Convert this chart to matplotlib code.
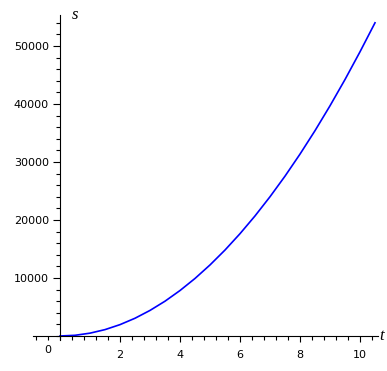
import matplotlib
matplotlib.use("Agg")
from matplotlib import pyplot as plt
from matplotlib.ticker import MultipleLocator

# values
t = [0, 0.5, 1, 1.5, 2, 2.5, 3, 3.5, 4, 4.5, 5, 5.5, 6, 6.5, 7, 7.5, 8, 8.5, 9, 9.5, 10, 10.5]
s = [0, 120, 490, 1100, 1960, 3060, 4410, 6000, 7840, 9920, 12250, 14820, 17640,
     20700, 24010, 27560, 31360, 35400, 39690, 44220, 49000, 54000]
xticks = [2, 4, 6, 8, 10]
yticks = [10000, 20000, 30000, 40000, 50000]

W, H = 387, 371
fig = plt.figure(figsize=(W / 100, H / 100), dpi=100)
# pixel frame: t=-1 at x=30, 30 px per unit; s=0 at y=336, 58 px per 10000
x0, x1 = 30, 378
ytop, ybot = 15, 345
ax = fig.add_axes([x0 / W, 1 - ybot / H, (x1 - x0) / W, (ybot - ytop) / H])
ax.set_xlim(-1, -1 + (x1 - x0) / 30)
ax.set_ylim(-(ybot - 336) / 58 * 10000, (336 - ytop) / 58 * 10000)

ax.plot(t, s, color="#0000ff", lw=1.2)

for side in ("top", "right"):
    ax.spines[side].set_visible(False)
ax.spines["left"].set_position(("data", 0))
ax.spines["bottom"].set_position(("data", 0))
ax.spines["left"].set_bounds(-700, ax.get_ylim()[1])
ax.spines["bottom"].set_bounds(-0.9, ax.get_xlim()[1])
for sp in ("left", "bottom"):
    ax.spines[sp].set_linewidth(0.8)

ax.set_xticks(xticks)
ax.set_yticks(yticks)
ax.xaxis.set_minor_locator(MultipleLocator(0.4))
ax.yaxis.set_minor_locator(MultipleLocator(2000))
ax.tick_params(which="major", length=5, width=0.8, labelsize=8, direction="out", pad=3)
ax.tick_params(which="minor", length=3, width=0.8, direction="out")
ax.tick_params(axis="x", which="major", length=4, pad=6)

ax.text(-0.4, -1500, "0", fontsize=8, ha="center", va="top")
ax.text(0.5, ax.get_ylim()[1], "s", fontsize=12, fontstyle="italic",
        family="Liberation Serif", ha="center", va="center")
ax.text(ax.get_xlim()[1] + 0.05, 0, "t", fontsize=12, fontstyle="italic",
        family="Liberation Serif", ha="left", va="center", clip_on=False)

fig.savefig("out.png", dpi=100)
